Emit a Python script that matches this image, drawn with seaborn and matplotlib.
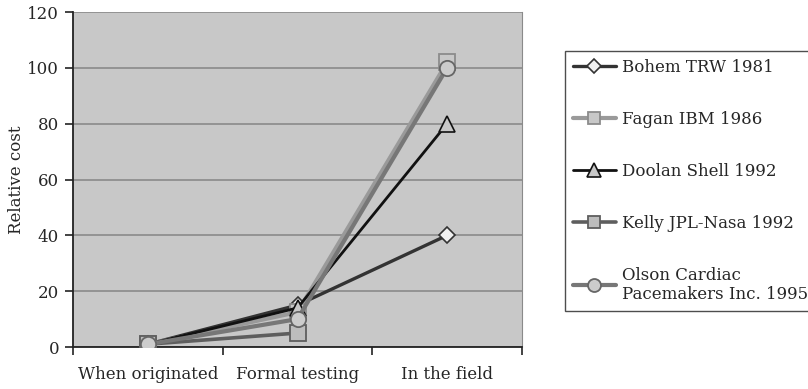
import numpy as np
import pandas as pd
import matplotlib
matplotlib.use("Agg")
import matplotlib.pyplot as plt
import seaborn as sns
from matplotlib.ticker import FixedLocator

categories = ["When originated", "Formal testing", "In the field"]
bohem = [1, 15, 40]
fagan = [1, 12.5, 102]
doolan = [1, 14, 80]
kelly = [1, 5, np.nan]
olson = [1, 10, 100]
series_names = ["Bohem TRW 1981", "Fagan IBM 1986", "Doolan Shell 1992",
                "Kelly JPL-Nasa 1992", "Olson Cardiac\nPacemakers Inc. 1995"]
yticks = [0, 20, 40, 60, 80, 100, 120]

sns.set_style("white")
plt.rcParams["font.family"] = ["DejaVu Serif"]

styles = [
    dict(color="#333333", lw=2.4, marker="D", ms=8, mfc="#f0f0f0", mec="#333333", mew=1.2),
    dict(color="#9a9a9a", lw=3.0, marker="s", ms=11, mfc="#c8c8c8", mec="#8c8c8c", mew=1.3),
    dict(color="#111111", lw=2.0, marker="^", ms=12, mfc="#c8c8c8", mec="#111111", mew=1.2),
    dict(color="#5e5e5e", lw=2.6, marker="s", ms=11, mfc="#bdbdbd", mec="#5e5e5e", mew=1.3),
    dict(color="#777777", lw=3.0, marker="o", ms=11, mfc="#cccccc", mec="#666666", mew=1.3),
]

fig = plt.figure(figsize=(8.08, 3.89), dpi=100)
ax = fig.add_axes([73/808, 1-347/389, (522-73)/808, (347-12)/389])
ax.set_facecolor("#c8c8c8")

x_pos = np.arange(len(categories))
handles = []
for name, vals, st in zip(series_names, [bohem, fagan, doolan, kelly, olson], styles):
    df = pd.DataFrame({"x": x_pos, "y": vals}).dropna()
    sns.lineplot(data=df, x="x", y="y", ax=ax, sort=False, color=st["color"],
                 linewidth=st["lw"], marker=st["marker"], markersize=st["ms"],
                 markerfacecolor=st["mfc"], markeredgecolor=st["mec"],
                 markeredgewidth=st["mew"], zorder=3)
    h = matplotlib.lines.Line2D([], [], color=st["color"], lw=st["lw"], marker=st["marker"],
                                ms=st["ms"]*0.85, mfc=st["mfc"], mec=st["mec"], mew=st["mew"])
    handles.append(h)

ax.set_xlim(-0.5, 2.5)
ax.set_ylim(0, 120)
ax.set_yticks(yticks)
ax.set_xticks(x_pos)
ax.set_xticklabels(categories, fontsize=12)
ax.xaxis.set_minor_locator(FixedLocator([-0.5, 0.5, 1.5, 2.5]))
ax.tick_params(axis="x", which="major", length=0, pad=14)
ax.tick_params(axis="x", which="minor", length=6, width=1.2, color="#222222", direction="out", bottom=True)
ax.tick_params(axis="y", length=6, width=1.2, color="#222222", direction="out", left=True,
               labelsize=12, pad=4)
ax.set_xlabel("")
ax.set_ylabel("Relative cost", fontsize=12, va="center")
ax.yaxis.set_label_coords(-0.125, 0.5)
ax.yaxis.grid(True, color="#8a8a8a", lw=1.2)
ax.set_axisbelow(True)
ax.spines["top"].set_visible(False)
ax.spines["right"].set_color("#8a8a8a")
ax.spines["left"].set_color("#222222")
ax.spines["bottom"].set_color("#222222")
ax.spines["left"].set_linewidth(1.3)
ax.spines["bottom"].set_linewidth(1.3)

leg = fig.legend(handles, series_names, loc="upper left", bbox_to_anchor=(565/808, 1-51/389),
                 bbox_transform=fig.transFigure, frameon=True, fancybox=False,
                 edgecolor="#222222", fontsize=12, labelspacing=2.1, handlelength=2.6,
                 handletextpad=0.35, borderpad=0.45, borderaxespad=0)
leg.get_frame().set_linewidth(1.0)

fig.savefig("out.png", dpi=100)
